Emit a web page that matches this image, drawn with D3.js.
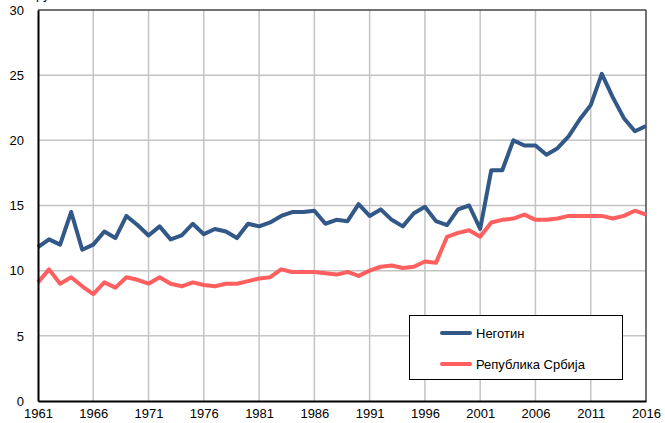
<!DOCTYPE html>
<html><head><meta charset="utf-8">
<script src="https://cdn.jsdelivr.net/npm/d3@7"></script>
<style>body{margin:0;background:#fff}svg{display:block}text{font-family:"Liberation Sans",Arial,sans-serif}</style>
</head><body><svg id="c" width="665" height="423"></svg>
<script>
const years = d3.range(1961, 2017);
const negotin = [11.8,12.4,12.0,14.5,11.6,12.0,13.0,12.5,14.2,13.5,12.7,13.4,12.4,12.7,13.6,12.8,13.2,13.0,12.5,13.6,
13.4,13.7,14.2,14.5,14.5,14.6,13.6,13.9,13.8,15.1,14.2,14.7,13.9,13.4,14.4,14.9,13.8,13.5,14.7,15.0,
13.2,17.7,17.7,20.0,19.6,19.6,18.9,19.4,20.3,21.6,22.7,25.1,23.3,21.7,20.7,21.1];
const srbija = [9.1,10.1,9.0,9.5,8.8,8.2,9.1,8.7,9.5,9.3,9.0,9.5,9.0,8.8,9.1,8.9,8.8,9.0,9.0,9.2,
9.4,9.5,10.1,9.9,9.9,9.9,9.8,9.7,9.9,9.6,10.0,10.3,10.4,10.2,10.3,10.7,10.6,12.6,12.9,13.1,
12.6,13.7,13.9,14.0,14.3,13.9,13.9,14.0,14.2,14.2,14.2,14.2,14.0,14.2,14.6,14.3];
const xTicks = [1961,1966,1971,1976,1981,1986,1991,1996,2001,2006,2011,2016];
const yTicks = [0,5,10,15,20,25,30];
const seriesNames = ["Неготин","Република Србија"];
const colors = ["#315886","#ff5f5f"];

const svg = d3.select("#c");
const L=38,R=646,T=10,B=401;
const x = d3.scaleLinear().domain([1961,2016]).range([L,R]);
const y = d3.scaleLinear().domain([0,30]).range([B,T]);

// partially visible title at top
svg.append("text").attr("x",36).attr("y",-1).attr("font-size",13).attr("fill","#000").text("ру");

const g = svg.append("g");
g.selectAll(".vg").data(xTicks.slice(1,-1)).join("line")
 .attr("x1",d=>x(d)).attr("x2",d=>x(d)).attr("y1",T).attr("y2",B)
 .attr("stroke","#c4c4c4").attr("stroke-width",1.5);
g.selectAll(".hg").data(yTicks.slice(1,-1)).join("line")
 .attr("x1",L).attr("x2",R).attr("y1",d=>y(d)).attr("y2",d=>y(d))
 .attr("stroke","#c4c4c4").attr("stroke-width",1.5);

// frame
svg.append("line").attr("x1",L).attr("x2",R).attr("y1",T).attr("y2",T).attr("stroke","#444").attr("stroke-width",1.5);
svg.append("line").attr("x1",R).attr("x2",R).attr("y1",T).attr("y2",B).attr("stroke","#444").attr("stroke-width",1.5);

const line = d3.line().x((d,i)=>x(years[i])).y(d=>y(d));
[srbija, negotin].forEach((s,k)=>{
  svg.append("path").datum(s).attr("d",line).attr("fill","none")
   .attr("stroke", k===0?colors[1]:colors[0]).attr("stroke-width",4).attr("stroke-linejoin","round");
});

// axes
const xa = svg.append("g").attr("transform",`translate(0,${B})`)
 .call(d3.axisBottom(x).tickValues(xTicks).tickFormat(d3.format("d")).tickSize(0).tickPadding(8));
xa.select(".domain").attr("stroke","#000").attr("stroke-width",2);
xa.selectAll("text").attr("font-size",13).attr("fill","#000").attr("font-family","Liberation Sans, Arial");
const ya = svg.append("g").attr("transform",`translate(${L},0)`)
 .call(d3.axisLeft(y).tickValues(yTicks).tickSize(0).tickPadding(14));
ya.select(".domain").attr("stroke","#000").attr("stroke-width",2);
ya.selectAll("text").attr("font-size",13).attr("fill","#000").attr("font-family","Liberation Sans, Arial");

// legend
const lg = svg.append("g");
lg.append("rect").attr("x",409.5).attr("y",315.5).attr("width",213).attr("height",64)
 .attr("fill","#fff").attr("stroke","#000").attr("stroke-width",1);
seriesNames.forEach((n,i)=>{
  const yy = 333 + i*31;
  lg.append("line").attr("x1",442).attr("x2",470).attr("y1",yy).attr("y2",yy)
   .attr("stroke",colors[i]).attr("stroke-width",4).attr("stroke-linecap","round");
  lg.append("text").attr("x",476).attr("y",yy+4.5).attr("font-size",13).attr("fill","#000").text(n);
});
</script></body></html>
